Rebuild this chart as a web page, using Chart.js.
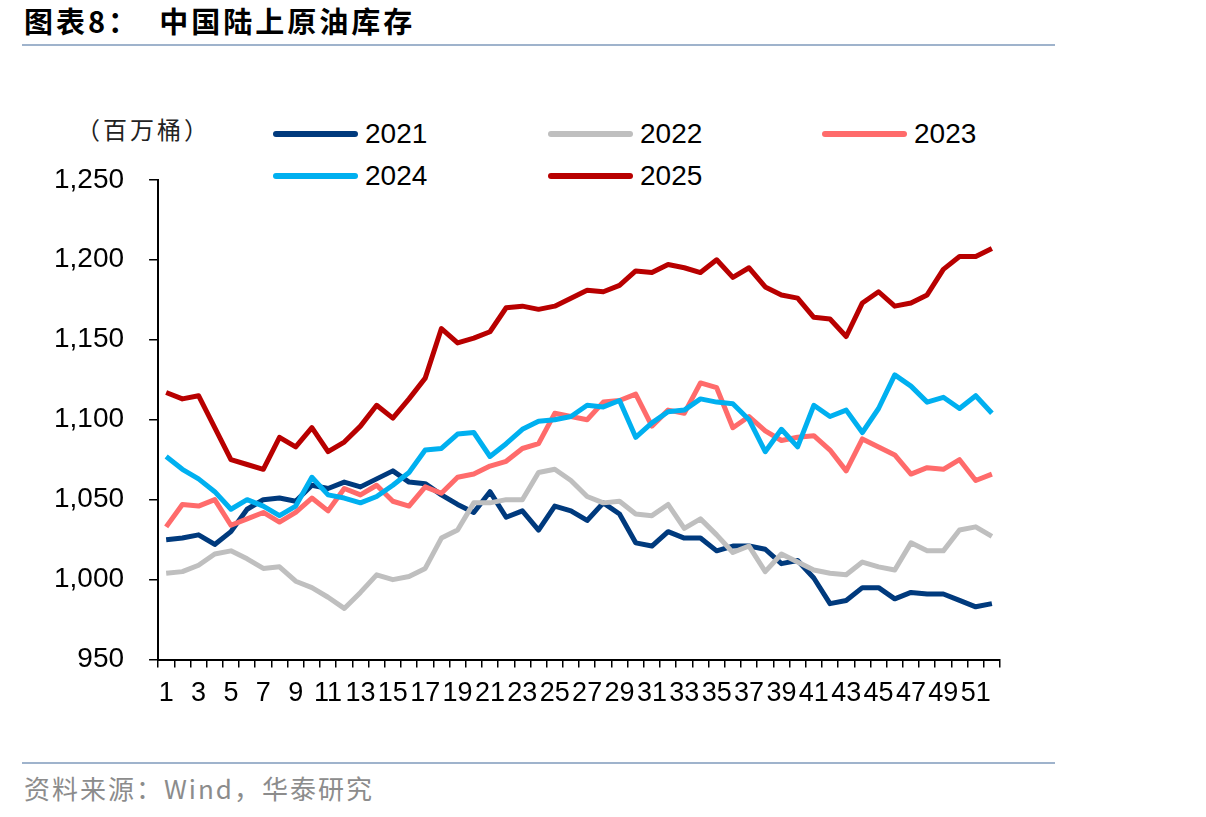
<!DOCTYPE html>
<html>
<head>
<meta charset="utf-8">
<script src="https://cdn.jsdelivr.net/npm/chart.js@4"></script>
<style>
  body { margin: 0; background: #fff; width: 1206px; height: 817px; position: relative; overflow: hidden; }
  .title { position: absolute; left: 24px; top: -1px; font-family: "Noto Sans CJK SC"; font-weight: 700; font-size: 29px; letter-spacing: 3px; color: #000; white-space: pre; }
  .rule { position: absolute; left: 22px; width: 1033px; height: 2px; background: #9fb3cc; }
  .unit { position: absolute; left: 76px; top: 111px; font-family: "Noto Sans CJK SC"; font-size: 24px; color: #222; letter-spacing: 3px; }
  .source { position: absolute; left: 24px; top: 769px; font-family: "Noto Sans CJK SC"; font-size: 26px; color: #8c8c8c; letter-spacing: 2px; }
  .leg { position: absolute; height: 30px; display: flex; align-items: center; font-family: Arial, "Liberation Sans", sans-serif; font-size: 28px; color: #000; }
  .leg span.sw { display: inline-block; width: 85px; height: 6px; border-radius: 3px; margin-right: 7px; }
  #wrap { position: absolute; left: 29px; top: 138px; width: 973px; height: 582px; }
</style>
</head>
<body>
<div class="title">图表8：  中国陆上原油库存</div>
<div class="rule" style="top:44px"></div>
<div class="unit">（百万桶）</div>
<div id="legend"></div>
<div id="wrap"><canvas id="chart"></canvas></div>
<div class="rule" style="top:762px"></div>
<div class="source">资料来源：Wind，华泰研究</div>

<script>
// weeks of the year
const weeks = ['1','2','3','4','5','6','7','8','9','10','11','12','13','14','15','16','17','18','19','20',
  '21','22','23','24','25','26','27','28','29','30','31','32','33','34','35','36','37','38','39','40',
  '41','42','43','44','45','46','47','48','49','50','51','52'];

// onshore crude inventory, million barrels
const y2021 = [1025,1026,1028,1022,1030,1044,1050,1051,1049,1059,1057,1061,1058,1063,1068,1061,1060,1053,1047,1042,
  1055,1039,1043,1031,1046,1043,1037,1048,1041,1023,1021,1030,1026,1026,1018,1021,1021,1019,1010,1012,
  1001,985,987,995,995,988,992,991,991,987,983,985];
const y2022 = [1004,1005,1009,1016,1018,1013,1007,1008,999,995,989,982,992,1003,1000,1002,1007,1026,1031,1048,
  1048,1050,1050,1067,1069,1062,1052,1048,1049,1041,1040,1047,1032,1038,1028,1017,1021,1005,1016,1011,
  1006,1004,1003,1011,1008,1006,1023,1018,1018,1031,1033,1027];
const y2023 = [1033,1047,1046,1050,1034,1038,1042,1036,1042,1051,1043,1057,1053,1059,1049,1046,1058,1054,1064,1066,
  1071,1074,1082,1085,1104,1102,1100,1111,1112,1116,1096,1106,1104,1123,1120,1095,1102,1093,1087,1089,
  1090,1081,1068,1088,1083,1078,1066,1070,1069,1075,1062,1066];
const y2024 = [1077,1069,1063,1055,1044,1050,1046,1040,1046,1064,1053,1051,1048,1052,1059,1067,1081,1082,1091,1092,
  1077,1085,1094,1099,1100,1102,1109,1108,1112,1089,1098,1105,1106,1113,1111,1110,1100,1080,1094,1083,
  1109,1102,1106,1092,1107,1128,1121,1111,1114,1107,1115,1104];
const y2025 = [1117,1113,1115,1095,1075,1072,1069,1089,1083,1095,1080,1086,1096,1109,1101,1113,1126,1157,1148,1151,
  1155,1170,1171,1169,1171,1176,1181,1180,1184,1193,1192,1197,1195,1192,1200,1189,1195,1183,1178,1176,
  1164,1163,1152,1173,1180,1171,1173,1178,1194,1202,1202,1207];

const seriesNames = ['2021', '2022', '2023', '2024', '2025'];
const seriesData = [y2021, y2022, y2023, y2024, y2025];
const seriesColors = ['#003a7d', '#bfbfbf', '#ff6b6b', '#00b0f0', '#b80000'];

// legend positions (3 columns, 2 rows)
const legendPos = [[273, 119], [548, 119], [822, 119], [273, 161], [548, 161]];
const legendBox = document.getElementById('legend');
seriesNames.forEach((name, i) => {
  const item = document.createElement('div');
  item.className = 'leg';
  item.style.left = legendPos[i][0] + 'px';
  item.style.top = legendPos[i][1] + 'px';
  item.innerHTML = `<span class="sw" style="background:${seriesColors[i]}"></span>${name}`;
  legendBox.appendChild(item);
});

const axisFont = { family: 'Arial, "Liberation Sans", sans-serif', size: 28 };

new Chart(document.getElementById('chart'), {
  type: 'line',
  data: {
    labels: weeks,
    datasets: seriesNames.map((name, i) => ({
      label: name,
      data: seriesData[i],
      borderColor: seriesColors[i],
      backgroundColor: seriesColors[i],
      borderWidth: 5,
      pointRadius: 0,
      tension: 0,
      borderJoinStyle: 'round',
      order: seriesNames.length - i
    }))
  },
  options: {
    responsive: true,
    maintainAspectRatio: false,
    animation: false,
    layout: { padding: { top: 16, right: 2, left: 0, bottom: 0 } },
    plugins: { legend: { display: false }, tooltip: { enabled: false } },
    scales: {
      x: {
        offset: true,
        grid: { offset: true, drawOnChartArea: false, drawTicks: true, tickLength: 8, color: '#000', lineWidth: 1.5 },
        border: { display: true, color: '#000', width: 2 },
        ticks: {
          autoSkip: false, maxRotation: 0, padding: 10, color: '#000',
          font: { family: axisFont.family, size: 27 },
          callback: (v, i) => (i % 2 === 0 ? weeks[i] : '')
        }
      },
      y: {
        min: 950,
        max: 1250,
        grid: { drawOnChartArea: false, drawTicks: true, tickLength: 9, color: '#000', lineWidth: 1.5 },
        border: { display: true, color: '#000', width: 2 },
        ticks: {
          stepSize: 50, padding: 25, color: '#000', font: axisFont,
          callback: v => v.toLocaleString('en-US')
        }
      }
    }
  }
});
</script>
</body>
</html>
